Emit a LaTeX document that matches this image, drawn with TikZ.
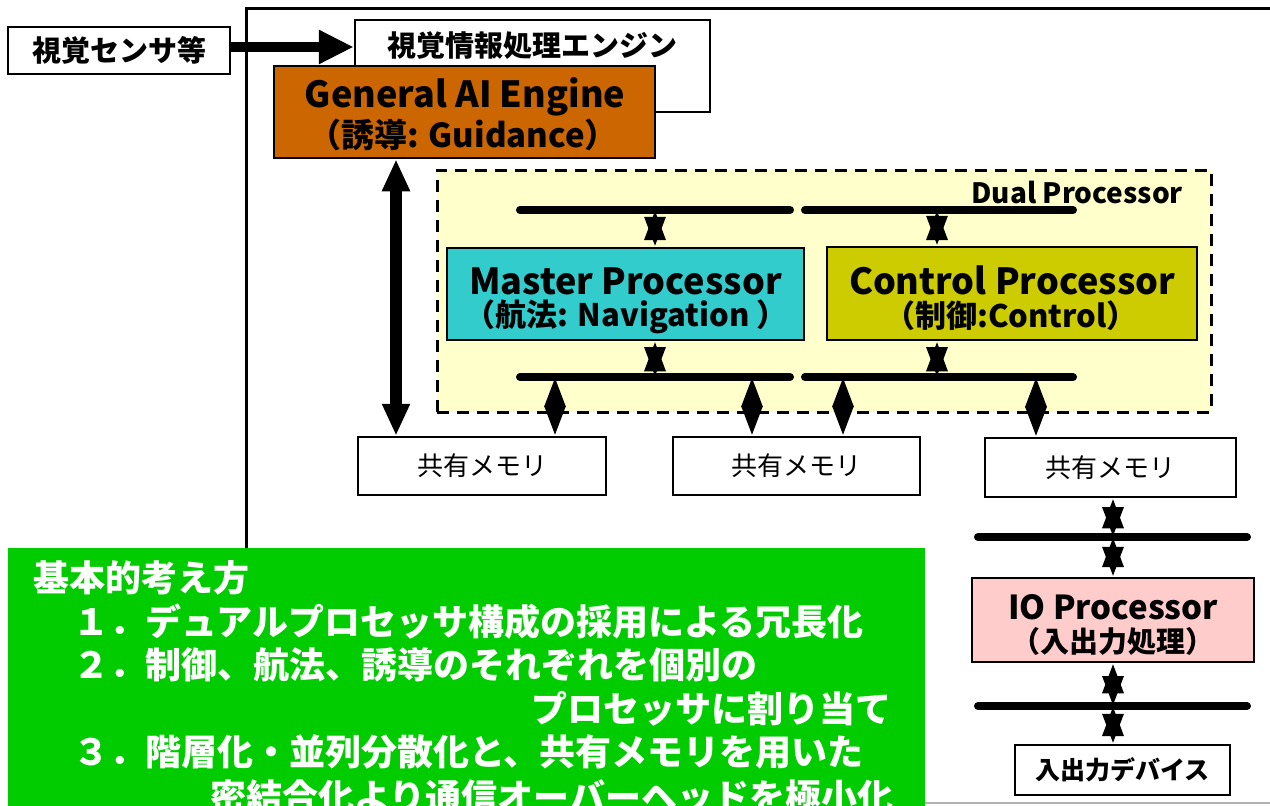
\documentclass[tikz,border=0pt]{standalone}
\usepackage{fontspec}
\setmainfont{Noto Sans CJK JP}
\usetikzlibrary{arrows.meta}
\definecolor{gaiC}{HTML}{CC6600}
\definecolor{masterC}{HTML}{33CCCC}
\definecolor{ctrlC}{HTML}{CCCC00}
\definecolor{dualC}{HTML}{FFFFCC}
\definecolor{ioC}{HTML}{FFCCCC}
\definecolor{greenC}{HTML}{00CC00}
\tikzset{
  box/.style={draw, line width=2.5pt, rectangle, inner sep=0pt, align=center},
  bus/.style={line width=8pt, line cap=round},
  dbl/.style={line width=6pt, {Triangle[length=30pt,width=20pt]}-{Triangle[length=30pt,width=20pt]}},
  bigdbl/.style={line width=12pt, {Triangle[length=32pt,width=26pt]}-{Triangle[length=32pt,width=26pt]}},
  gtext/.style={anchor=west, inner sep=0pt, text=white, font=\bfseries\fontsize{36}{40}\selectfont},
  ltext/.style={inner sep=0pt, font=\bfseries},
}
\newcommand{\fs}[2]{\fontsize{#1}{#2}\selectfont}
\begin{document}
\begin{tikzpicture}[x=1pt,y=-1pt]
\useasboundingbox (0,0) rectangle (1270,806);
% outer frame
\draw[line width=3pt] (246,560) -- (246,8) -- (1275,8);
\draw[line width=2pt, black!30] (925,803) -- (1275,803);
% sensor
\node[box, minimum width=222pt, minimum height=47pt, font=\bfseries\fs{29}{32}] (sensor) at (119,50.5) {視覚センサ等};
\node[box, minimum width=355pt, minimum height=92pt] (vis) at (532.5,66) {};
\node[ltext, font=\bfseries\fs{29}{32}] (visT) at (532,46) {視覚情報処理エンジン};
\coordinate (sa) at (230,47);
\draw[line width=10pt, -{Triangle[length=35pt,width=32pt]}] (sa) -- (sa -| vis.west);
% GAI
\node[box, fill=gaiC, minimum width=381pt, minimum height=92pt] (gai) at (464.5,112) {};
\node[ltext, font=\bfseries\fs{36}{40}] (gaiA) at (465,97) {General AI Engine};
\node[ltext, font=\bfseries\fs{33}{36}] (gaiB) at (463,135) {（誘導: Guidance）};
% dual
\node[draw, line width=3pt, dash pattern=on 12pt off 8pt, fill=dualC, minimum width=774pt, minimum height=242pt, inner sep=0pt] (dual) at (824,291) {};
\node[anchor=east, inner sep=0pt, font=\bfseries\fs{28}{30}] (dualT) at (1183,193) {Dual Processor};
% buses
\coordinate (tl1) at (520,210); \coordinate (tl2) at (790,210);
\coordinate (tr1) at (805,210); \coordinate (tr2) at (1073,210);
\coordinate (bl1) at (520,377); \coordinate (bl2) at (790,377);
\coordinate (br1) at (805,377); \coordinate (br2) at (1073,377);
\draw[bus] (tl1) -- (tl2);
\draw[bus] (tr1) -- (tr2);
\draw[bus] (bl1) -- (bl2);
\draw[bus] (br1) -- (br2);
% processors
\node[box, fill=masterC, minimum width=357pt, minimum height=92pt] (master) at (625.5,294) {};
\node[ltext, font=\bfseries\fs{36}{40}] (masterA) at (625.5,281) {Master Processor};
\node[ltext, font=\bfseries\fs{31}{34}] (masterB) at (626,317) {（航法: Navigation ）};
\node[box, fill=ctrlC, minimum width=370pt, minimum height=93pt] (control) at (1012,293.5) {};
\node[ltext, font=\bfseries\fs{36}{40}] (controlA) at (1012,280) {Control Processor};
\node[ltext, font=\bfseries\fs{31}{34}] (controlB) at (1011,316) {（制御:Control）};
% memories
\node[box, minimum width=248pt, minimum height=58pt, font=\fs{26}{28}] (mem1) at (482,466) {共有メモリ};
\node[box, minimum width=247pt, minimum height=58pt, font=\fs{26}{28}] (mem2) at (796.5,466) {共有メモリ};
\node[box, minimum width=251pt, minimum height=59pt, font=\fs{26}{28}] (mem3) at (1110.5,467.5) {共有メモリ};
% arrows in dual
\coordinate (m1) at (655,210); \coordinate (m2) at (655,377);
\coordinate (c1) at (937,210); \coordinate (c2) at (937,377);
\draw[dbl] (m1) -- (m1 |- master.north);
\draw[dbl] (m2) -- (m2 |- master.south);
\draw[dbl] (c1) -- (c1 |- control.north);
\draw[dbl] (c2) -- (c2 |- control.south);
\coordinate (d1) at (555,377); \coordinate (d2) at (752,377);
\coordinate (d3) at (843,377); \coordinate (d4) at (1036,377);
\draw[dbl] (d1) -- (d1 |- mem1.north);
\draw[dbl] (d2) -- (d2 |- mem2.north);
\draw[dbl] (d3) -- (d3 |- mem2.north);
\draw[dbl] (d4) -- (d4 |- mem3.north);
% big arrow
\coordinate (ga) at (396,0);
\draw[bigdbl] (ga |- gai.south) -- (ga |- mem1.north);
% IO
\coordinate (i1) at (978,537); \coordinate (i2) at (1247,537);
\coordinate (j1) at (978,706); \coordinate (j2) at (1247,706);
\draw[bus] (i1) -- (i2);
\draw[bus] (j1) -- (j2);
\node[box, fill=ioC, minimum width=282pt, minimum height=84pt] (io) at (1113,620) {};
\node[ltext, font=\bfseries\fs{33}{36}] (ioA) at (1113,607) {IO Processor};
\node[ltext, font=\bfseries\fs{29}{32}] (ioB) at (1113,641) {（入出力処理）};
\node[box, minimum width=215pt, minimum height=50pt, font=\bfseries\fs{25}{28}] (dev) at (1122.5,770) {入出力デバイス};
\coordinate (ia) at (1113,537); \coordinate (ja) at (1113,706);
\draw[dbl] (ia |- mem3.south) -- (ia);
\draw[dbl] (ia) -- (ia |- io.north);
\draw[dbl] (ja |- io.south) -- (ja);
\draw[dbl] (ja) -- (ja |- dev.north);
% green panel
\node[fill=greenC, minimum width=917pt, minimum height=270pt, inner sep=0pt, anchor=north west] (green) at (8,548) {};
\node[gtext] (g0) at (33,578) {基本的考え方};
\node[gtext] (g1) at (73,622) {１．デュアルプロセッサ構成の採用による冗長化};
\node[gtext] (g2) at (73,665) {２．制御、航法、誘導のそれぞれを個別の};
\node[gtext, anchor=east] (g3) at (892,709) {プロセッサに割り当て};
\node[gtext] (g4) at (73,752) {３．階層化・並列分散化と、共有メモリを用いた};
\node[gtext] (g5) at (210,797) {密結合化より通信オーバーヘッドを極小化};
\end{tikzpicture}
\end{document}
